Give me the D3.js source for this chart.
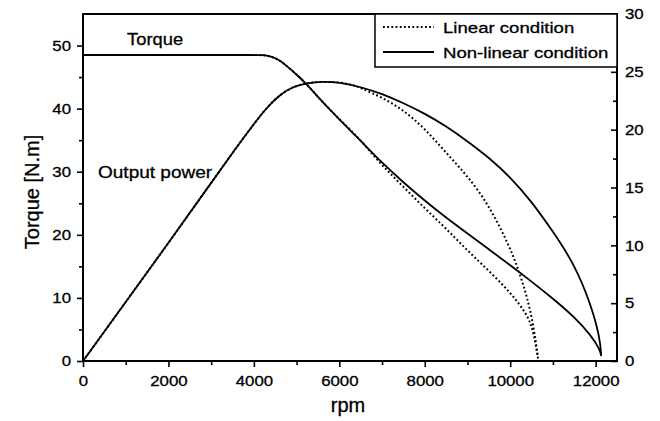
<!DOCTYPE html>
<html><head><meta charset="utf-8">
<script src="https://cdn.jsdelivr.net/npm/d3@7"></script>
<style>body{margin:0;background:#fff}svg text{font-family:"Liberation Sans",Arial,sans-serif;fill:#000;stroke:#000;stroke-width:0.3px}</style>
</head><body><svg id="c" width="660" height="421"></svg>
<script>
// ---- data ----
const xTicks = [0, 2000, 4000, 6000, 8000, 10000, 12000];
const yLeftTicks = [0, 10, 20, 30, 40, 50];
const yRightTicks = [0, 5, 10, 15, 20, 25, 30];

// Torque, non-linear condition [N.m]
const torqueNL_rpm = [0, 1000, 2000, 3000, 4000, 4200, 4400, 4600, 4800, 5000, 5250, 5500, 6000, 6500, 7000, 7500, 8000, 8500, 9000, 9500, 10000, 10500, 11000, 11500, 11900, 12100, 12130];
const torqueNL_val = [48.5, 48.5, 48.5, 48.5, 48.5, 48.5, 48.3, 47.7, 46.6, 45.4, 43.8, 41.8, 38.3, 34.9, 31.4, 28.3, 25.4, 22.7, 20.2, 17.7, 15.2, 12.6, 9.9, 7.0, 4.0, 1.8, 0.8];
// Torque, linear condition [N.m]
const torqueL_rpm = [0, 1000, 2000, 3000, 4000, 4200, 4400, 4600, 4800, 5000, 5250, 5500, 6000, 6300, 6560, 7000, 7500, 8000, 8500, 9000, 9500, 10000, 10400, 10550, 10650];
const torqueL_val = [48.5, 48.5, 48.5, 48.5, 48.5, 48.5, 48.3, 47.7, 46.6, 45.4, 43.8, 41.8, 38.3, 36.4, 34.5, 31.0, 27.6, 24.2, 21.0, 17.5, 14.3, 10.9, 7.4, 4.6, 0.4];
// Output power, non-linear condition [kW]
const powerNL_rpm = [0, 1000, 2000, 3000, 3500, 4000, 4300, 4600, 4900, 5250, 5600, 6000, 6500, 7000, 7500, 8000, 8500, 9000, 9500, 10000, 10500, 11000, 11500, 11900, 12100, 12130];
const powerNL_val = [0, 5.1, 10.2, 15.4, 18.0, 20.5, 21.9, 23.0, 23.7, 24.05, 24.15, 24.1, 23.7, 23.1, 22.3, 21.4, 20.3, 19.0, 17.6, 15.9, 13.8, 11.2, 8.4, 4.8, 2.0, 0.5];
// Output power, linear condition [kW]
const powerL_rpm = [0, 1000, 2000, 3000, 3500, 4000, 4300, 4600, 4900, 5250, 5600, 6000, 6300, 6500, 7000, 7500, 8000, 8500, 9000, 9500, 10000, 10200, 10400, 10550, 10650];
const powerL_val = [0, 5.1, 10.2, 15.4, 18.0, 20.5, 21.9, 23.0, 23.7, 24.05, 24.15, 24.1, 23.9, 23.6, 22.8, 21.7, 20.1, 18.0, 16.0, 13.5, 9.8, 7.8, 5.5, 3.0, 0.3];

const legendLabels = ["Linear condition", "Non-linear condition"];

// ---- layout ----
const L = 83, R = 617, T = 14, B = 361;
const svg = d3.select("#c");
const x = d3.scaleLinear().domain([0, 12500]).range([L, R]);
const yL = d3.scaleLinear().domain([0, 55]).range([B, T]);
const yR = d3.scaleLinear().domain([0, 30]).range([B, T]);

function styleAxis(g) {
  g.selectAll("path.domain").remove();
  g.selectAll(".tick line").attr("stroke", "#000").attr("stroke-width", 1.6);
  g.selectAll(".tick text").style("font-size", "15px");
}
// horizontally widened labels (reference type is wider than Arial)
function widen(sel, sx) {
  sel.each(function () {
    const t = d3.select(this);
    const bx = +t.attr("x") || 0, by = +t.attr("y") || 0;
    t.attr("transform", `translate(${bx},${by}) scale(${sx},1) translate(${-bx},${-by})`);
  });
}

// minor ticks
svg.append("g").attr("transform", `translate(0,${B})`)
  .call(d3.axisBottom(x).tickValues(d3.range(1000, 12500, 2000)).tickSize(4).tickFormat(""))
  .call(styleAxis);
svg.append("g").attr("transform", `translate(${L},0)`)
  .call(d3.axisLeft(yL).tickValues(d3.range(5, 55, 10)).tickSize(4).tickFormat(""))
  .call(styleAxis);
svg.append("g").attr("transform", `translate(${R},0)`)
  .call(d3.axisLeft(yR).tickValues(d3.range(2.5, 30, 5)).tickSize(4).tickFormat(""))
  .call(styleAxis);

// major ticks
const bAx = svg.append("g").attr("transform", `translate(0,${B})`)
  .call(d3.axisBottom(x).tickValues(xTicks).tickSize(6).tickPadding(8).tickFormat(d3.format("d")))
  .call(styleAxis);
const lAx = svg.append("g").attr("transform", `translate(${L},0)`)
  .call(d3.axisLeft(yL).tickValues(yLeftTicks).tickSize(6).tickPadding(6).tickFormat(d3.format("d")))
  .call(styleAxis);
const rAx = svg.append("g").attr("transform", `translate(${R},0)`)
  .call(d3.axisLeft(yR).tickValues(yRightTicks).tickSize(6).tickFormat(d3.format("d")))
  .call(styleAxis);
rAx.selectAll(".tick text").attr("x", 8).attr("text-anchor", "start");
widen(bAx.selectAll(".tick text"), 1.12);
widen(lAx.selectAll(".tick text"), 1.12);
widen(rAx.selectAll(".tick text"), 1.12);

// frame
svg.append("rect").attr("x", L).attr("y", T).attr("width", R - L).attr("height", B - T)
  .attr("fill", "none").attr("stroke", "#000").attr("stroke-width", 2);

// curves
const line = (ys) => d3.line().x(d => x(d[0])).y(d => ys(d[1])).curve(d3.curveBasis);
function draw(rpm, val, ys, dotted) {
  svg.append("path").datum(d3.zip(rpm, val))
    .attr("d", line(ys)).attr("fill", "none").attr("stroke", "#000")
    .attr("stroke-width", dotted ? 2 : 1.8)
    .attr("stroke-dasharray", dotted ? "1.8,2.4" : null);
}
draw(torqueNL_rpm, torqueNL_val, yL, false);
draw(powerNL_rpm, powerNL_val, yR, false);
draw(torqueL_rpm, torqueL_val, yL, true);
draw(powerL_rpm, powerL_val, yR, true);

// annotations
widen(svg.append("text").attr("x", 127).attr("y", 45).style("font-size", "17px").text("Torque"), 1.08);
widen(svg.append("text").attr("x", 98).attr("y", 178).style("font-size", "17px").text("Output power"), 1.12);

// legend
const lg = svg.append("g");
lg.append("rect").attr("x", 375).attr("y", T).attr("width", R - 375).attr("height", 53)
  .attr("fill", "#fff").attr("stroke", "#000").attr("stroke-width", 1.5);
[0, 1].forEach(i => {
  const yy = 27 + i * 25;
  lg.append("line").attr("x1", 383).attr("x2", 434).attr("y1", yy).attr("y2", yy)
    .attr("stroke", "#000").attr("stroke-width", i ? 1.8 : 2)
    .attr("stroke-dasharray", i ? null : "1.8,2.4");
  widen(lg.append("text").attr("x", 443).attr("y", yy + 6).style("font-size", "15.5px").text(legendLabels[i]), 1.2);
});

// axis titles
svg.append("text").attr("x", 348).attr("y", 412).attr("text-anchor", "middle").style("font-size", "20px").text("rpm");
svg.append("text").attr("transform", "translate(39,192) rotate(-90)").attr("text-anchor", "middle")
  .style("font-size", "20px").text("Torque [N.m]");
</script></body></html>
